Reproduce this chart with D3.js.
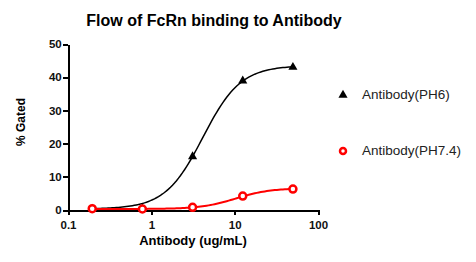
<!DOCTYPE html>
<meta charset="utf-8">
<style>
  body { margin: 0; background: #fff; }
  svg { font-family: "Liberation Sans", Arial, sans-serif; }
  .axis path, .axis line { stroke: #000; stroke-width: 2px; shape-rendering: crispEdges; }
  .axis text { font-size: 11.5px; font-weight: bold; fill: #111; }
</style>
<body>
<script src="https://cdnjs.cloudflare.com/ajax/libs/d3/7.8.5/d3.min.js"></script>
<script>
// concentrations (ug/mL) and % gated
var conc = [0.1953125, 0.78125, 3.125, 12.5, 50];
var ph6 = [0.3, 0.4, 16.1, 38.9, 43.0];
var ph74 = [0.4, 0.3, 0.8, 4.2, 6.3];
// 4PL fit params: bottom, top, ec50, hill
var fitPh6 = [0.3, 43.5, 4.16, 1.92];
var fitPh74 = [0.3, 6.6, 10.3, 2.08];
var yTicks = [0, 10, 20, 30, 40, 50];
var xTicks = [0.1, 1, 10, 100];
var seriesNames = ["Antibody(PH6)", "Antibody(PH7.4)"];

var width = 476, height = 262;
var margin = {top: 44, left: 68, right: 158, bottom: 52};

var svg = d3.select("body").append("svg")
    .attr("width", width)
    .attr("height", height);

var x = d3.scaleLog()
    .domain([0.1, 100])
    .range([margin.left, width - margin.right]);

var y = d3.scaleLinear()
    .domain([0, 50])
    .range([height - margin.bottom, margin.top]);

// title
svg.append("text")
    .attr("x", 214)
    .attr("y", 26)
    .attr("text-anchor", "middle")
    .attr("font-size", "16px")
    .attr("font-weight", "bold")
    .text("Flow of FcRn binding to Antibody");

// axes
svg.append("g")
    .attr("class", "axis")
    .attr("transform", "translate(0," + y(0) + ")")
    .call(d3.axisBottom(x).tickValues(xTicks).tickFormat(d3.format("")).tickSize(5).tickSizeOuter(0))
    .selectAll("text").attr("dy", "0.95em");

svg.append("g")
    .attr("class", "axis")
    .attr("transform", "translate(" + x(0.1) + ",0)")
    .call(d3.axisLeft(y).tickValues(yTicks).tickSize(5).tickSizeOuter(0))
    .selectAll("text").attr("dx", "0.15em");

svg.append("text")
    .attr("x", 193)
    .attr("y", 245)
    .attr("text-anchor", "middle")
    .attr("font-size", "13px")
    .attr("font-weight", "bold")
    .text("Antibody (ug/mL)");

svg.append("text")
    .attr("transform", "translate(25,122) rotate(-90)")
    .attr("text-anchor", "middle")
    .attr("font-size", "12px")
    .attr("font-weight", "bold")
    .text("% Gated");

// fitted curves
function fourPL(p) {
  return function(c) { return p[0] + (p[1] - p[0]) / (1 + Math.pow(p[2] / c, p[3])); };
}
var xs = d3.range(0, 101).map(function(i) {
  return Math.pow(10, Math.log10(conc[0]) + i / 100 * (Math.log10(conc[4]) - Math.log10(conc[0])));
});
var line = d3.line()
    .x(function(d) { return x(d[0]); })
    .y(function(d) { return y(d[1]); });

var f6 = fourPL(fitPh6), f74 = fourPL(fitPh74);

svg.append("path")
    .datum(xs.map(function(c) { return [c, f6(c)]; }))
    .attr("d", line)
    .attr("fill", "none")
    .attr("stroke", "#000")
    .attr("stroke-width", 1.5);

// PH6 triangles
var tri = d3.symbol().type(d3.symbolTriangle).size(36);
svg.append("g").selectAll("path")
    .data(conc)
  .enter().append("path")
    .attr("d", tri)
    .attr("transform", function(d, i) { return "translate(" + x(d) + "," + y(ph6[i]) + ")"; })
    .attr("fill", "#000");

svg.append("path")
    .datum(xs.map(function(c) { return [c, f74(c)]; }))
    .attr("d", line)
    .attr("fill", "none")
    .attr("stroke", "#f00")
    .attr("stroke-width", 2);

svg.append("g").selectAll("circle")
    .data(conc)
  .enter().append("circle")
    .attr("cx", function(d) { return x(d); })
    .attr("cy", function(d, i) { return y(ph74[i]); })
    .attr("r", 3.5)
    .attr("fill", "#fff")
    .attr("stroke", "#f00")
    .attr("stroke-width", 2.5);

// legend
var leg = svg.append("g");
leg.append("path")
    .attr("d", tri)
    .attr("transform", "translate(343,95)")
    .attr("fill", "#000");
leg.append("circle")
    .attr("cx", 343).attr("cy", 151).attr("r", 3)
    .attr("fill", "#fff").attr("stroke", "#f00").attr("stroke-width", 2.5);
leg.selectAll("text")
    .data(seriesNames)
  .enter().append("text")
    .attr("x", 362)
    .attr("y", function(d, i) { return 99 + i * 56; })
    .attr("font-size", "13.5px")
    .attr("fill", "#222")
    .text(function(d) { return d; });
</script>
</body>
